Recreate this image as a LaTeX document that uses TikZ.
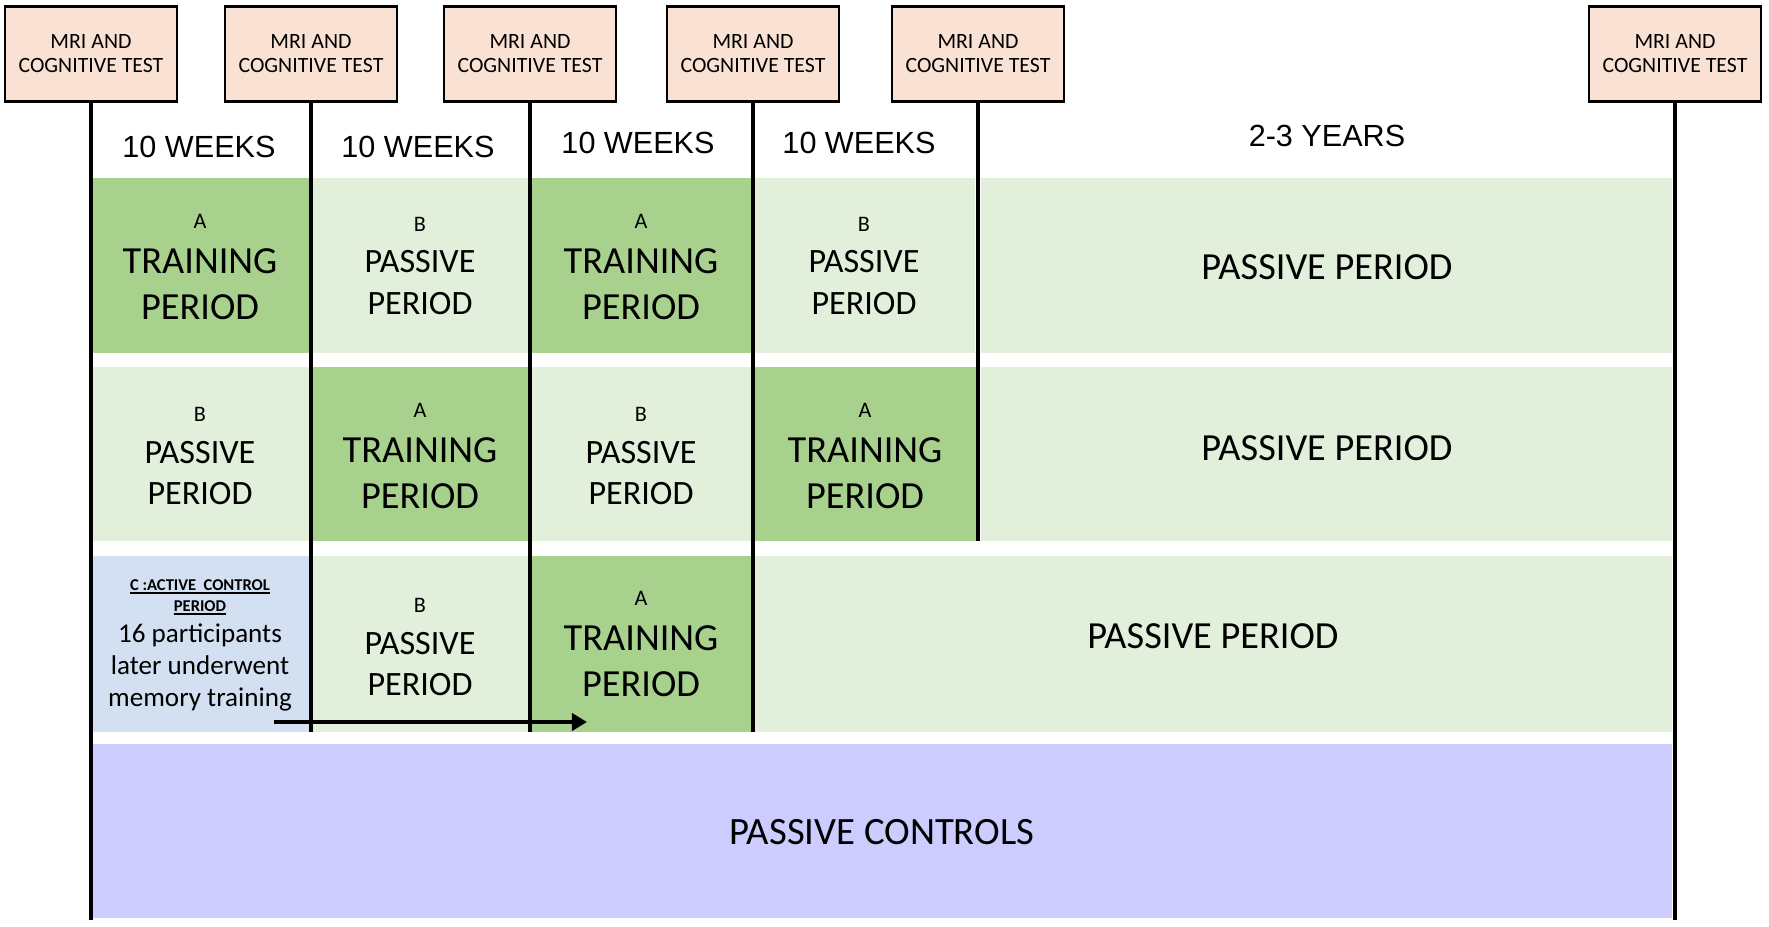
\documentclass[tikz,border=0pt]{standalone}
\usepackage{fontspec}
\setmainfont{Carlito}
\newfontfamily\arialf{Liberation Sans}
\usetikzlibrary{arrows.meta,fit}
\definecolor{dkg}{HTML}{A9D18E}
\definecolor{ltg}{HTML}{E2EFDA}
\definecolor{blu}{HTML}{D3E0F1}
\definecolor{pur}{HTML}{CCCCFF}
\definecolor{pch}{HTML}{F9E1D3}
\newcommand\smallletter[1]{{\fontsize{6.3}{6.3}\selectfont #1}}
\newcommand\myul[1]{\setbox0\hbox{#1}\leavevmode\rlap{\vrule height -0.5pt depth 1.1pt width \wd0}\box0}
\tikzset{
 testbox/.style={draw=black, line width=0.6pt, fill=pch, minimum width=1.72cm, minimum height=0.95cm, inner sep=0pt, align=center, font=\fontsize{6.2}{6.8}\selectfont},
 vline/.style={line width=0.9pt, draw=black},
 cellbox/.style={inner sep=0pt, outer sep=0pt},
 darkcell/.style={cellbox, fill=dkg},
 lightcell/.style={cellbox, fill=ltg},
 traintext/.style={inner sep=0pt, align=center, font=\fontsize{10.9}{12.9}\selectfont},
 passtext/.style={inner sep=0pt, align=center, font=\fontsize{9.7}{11.7}\selectfont},
 longpass/.style={inner sep=0pt, font=\fontsize{10.9}{13}\selectfont},
 weeks/.style={inner sep=0pt, font=\arialf\fontsize{8.7}{10}\selectfont},
 arr/.style={line width=1.1pt, -{Triangle[length=0.15cm,width=0.17cm]}},
}
\begin{document}
\begin{tikzpicture}[x=0.01cm,y=-0.01cm]
\useasboundingbox (0,0) rectangle (1769,927);
% row 1 cells
\node[darkcell, fit={(93,178) (309,353)}] (c11) {};
\node[lightcell, fit={(313,178) (528,353)}] (c12) {};
\node[darkcell, fit={(532,178) (751,353)}] (c13) {};
\node[lightcell, fit={(755,178) (975,353)}] (c14) {};
\node[lightcell, fit={(981,178) (1672,353)}] (c15) {};
% row 2 cells
\node[lightcell, fit={(93,367) (309,541)}] (c21) {};
\node[darkcell, fit={(313,367) (528,541)}] (c22) {};
\node[lightcell, fit={(532,367) (751,541)}] (c23) {};
\node[darkcell, fit={(755,367) (977,541)}] (c24) {};
\node[lightcell, fit={(981,367) (1672,541)}] (c25) {};
% row 3 cells
\node[cellbox, fill=blu, fit={(93,556) (309,732)}] (c31) {};
\node[lightcell, fit={(313,556) (528,732)}] (c32) {};
\node[darkcell, fit={(532,556) (751,732)}] (c33) {};
\node[lightcell, fit={(755,556) (1672,732)}] (c34) {};
% row 4 cell
\node[cellbox, fill=pur, fit={(93,744) (1672,918)}] (c41) {};
% cell texts
\node[traintext] (x11) at (200,267) {\smallletter{A}\\TRAINING\\PERIOD};
\node[passtext] (x12) at (420,266) {\smallletter{B}\\PASSIVE\\PERIOD};
\node[traintext] (x13) at (641,267) {\smallletter{A}\\TRAINING\\PERIOD};
\node[passtext] (x14) at (864,266) {\smallletter{B}\\PASSIVE\\PERIOD};
\node[passtext] (x21) at (200,456) {\smallletter{B}\\PASSIVE\\PERIOD};
\node[traintext] (x22) at (420,456) {\smallletter{A}\\TRAINING\\PERIOD};
\node[passtext] (x23) at (641,456) {\smallletter{B}\\PASSIVE\\PERIOD};
\node[traintext] (x24) at (865,456) {\smallletter{A}\\TRAINING\\PERIOD};
\node[passtext] (x32) at (420,647) {\smallletter{B}\\PASSIVE\\PERIOD};
\node[traintext] (x33) at (641,644) {\smallletter{A}\\TRAINING\\PERIOD};
\node[longpass] (x15) at (1327,267) {PASSIVE PERIOD};
\node[longpass] (x25) at (1327,448) {PASSIVE PERIOD};
\node[longpass] (x34) at (1213,636) {PASSIVE PERIOD};
\node[inner sep=0pt, font=\fontsize{11}{13}\selectfont] (x41) at (882,832) {PASSIVE CONTROLS};
\node[align=center, inner sep=0pt, font=\fontsize{7.7}{9.1}\selectfont] (x31) at (200,645)
 {{\fontsize{4.7}{5}\selectfont\bfseries\myul{C :ACTIVE\ \ CONTROL}}\\[-3pt]{\fontsize{4.7}{5}\selectfont\bfseries\myul{PERIOD}}\\[-0.4pt]16 participants\\later underwent\\memory training};
% header texts
\node[weeks] (w1) at (199,147) {10 WEEKS};
\node[weeks] (w2) at (418,147) {10 WEEKS};
\node[weeks] (w3) at (638,143) {10 WEEKS};
\node[weeks] (w4) at (859,143) {10 WEEKS};
\node[weeks] (w5) at (1327,136) {2-3 YEARS};
% test boxes
\node[testbox] (m1) at (91,54) {MRI AND\\COGNITIVE TEST};
\node[testbox] (m2) at (311,54) {MRI AND\\COGNITIVE TEST};
\node[testbox] (m3) at (530,54) {MRI AND\\COGNITIVE TEST};
\node[testbox] (m4) at (753,54) {MRI AND\\COGNITIVE TEST};
\node[testbox] (m5) at (978,54) {MRI AND\\COGNITIVE TEST};
\node[testbox] (m6) at (1675,54) {MRI AND\\COGNITIVE TEST};
% line ends
\coordinate (e1) at (91,920);
\coordinate (e2) at (311,732);
\coordinate (e3) at (530,732);
\coordinate (e4) at (753,732);
\coordinate (e5) at (978,541);
\coordinate (e6) at (1675,920);
\draw[vline] (m1.south) -- (e1);
\draw[vline] (m2.south) -- (e2);
\draw[vline] (m3.south) -- (e3);
\draw[vline] (m4.south) -- (e4);
\draw[vline] (m5.south) -- (e5);
\draw[vline] (m6.south) -- (e6);
% arrow
\coordinate (as) at (274,722);
\coordinate (ae) at (587,722);
\draw[arr] (as) -- (ae);
\end{tikzpicture}
\end{document}
